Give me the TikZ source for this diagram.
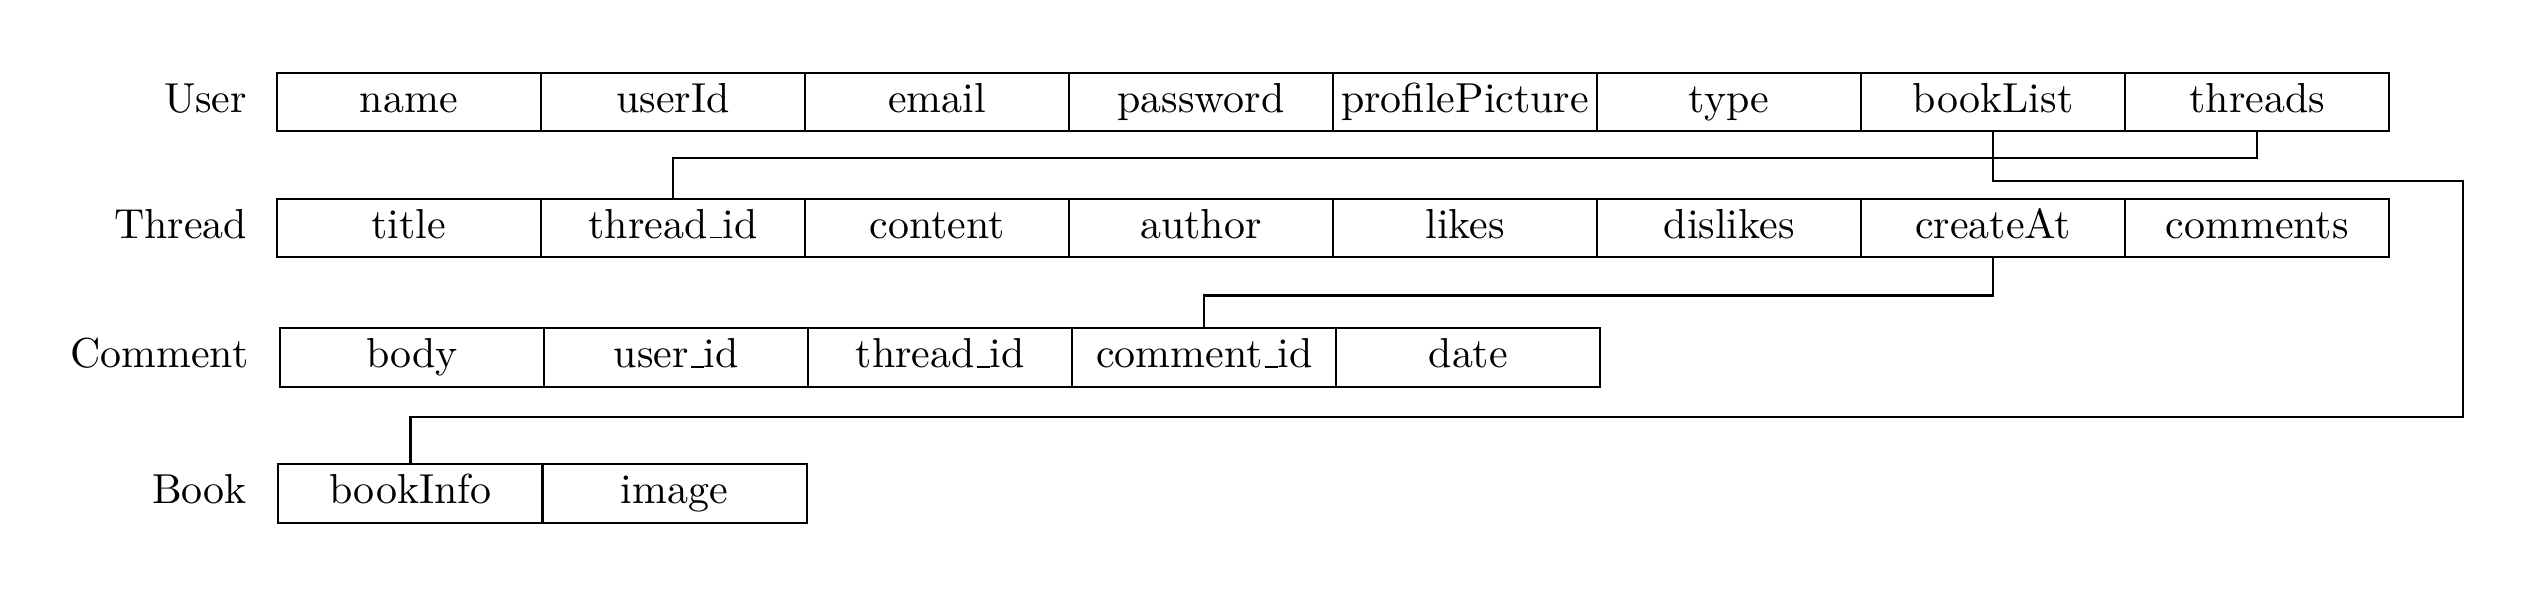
\documentclass[tikz,border=0pt]{standalone}
\newcommand\us{\kern.06em\vbox{\hrule width.3em}}
\begin{document}
\begin{tikzpicture}[x=0.386pt,y=-0.386pt,
  cell/.style={draw, line width=0.5pt, minimum width=63.0pt, minimum height=13.9pt, inner sep=0pt, text height=0.7em, text depth=0.22em},
  rowlabel/.style={anchor=east, inner sep=0pt, text height=0.7em, text depth=0.22em},
  link/.style={draw, line width=0.5pt}]
\useasboundingbox (0,0) rectangle (1560,368);
% User
\node[rowlabel] (lu) at (153.2,63) {User};
\foreach \t [count=\i from 0] in {name,userId,email,password,profilePicture,type,bookList,threads}
  \node[cell] (u\i) at (252.7+163.2*\i,63) {\t};
% Thread
\node[rowlabel] (lt) at (153.2,141) {Thread};
\foreach \t [count=\i from 0] in {title,thread\us id,content,author,likes,dislikes,createAt,comments}
  \node[cell] (t\i) at (252.7+163.2*\i,141) {\t};
% Comment
\node[rowlabel] (lc) at (154,221) {Comment};
\foreach \t [count=\i from 0] in {body,user\us id,thread\us id,comment\us id,date}
  \node[cell] (c\i) at (254.7+163.2*\i,221) {\t};
% Book
\node[rowlabel] (lb) at (153.2,305) {Book};
\foreach \t [count=\i from 0] in {bookInfo,image}
  \node[cell] (b\i) at (253.7+163.2*\i,305) {\t};
% connectors
\coordinate (rc) at (1522,258);
\draw[link] (u7.south) -- ++(0,16) -| (t1.north);
\draw[link] (u6.south) -- ++(0,30) -| (rc) -| (b0.north);
\draw[link] (t6.south) -- ++(0,23) -| (c3.north);
\end{tikzpicture}
\end{document}
